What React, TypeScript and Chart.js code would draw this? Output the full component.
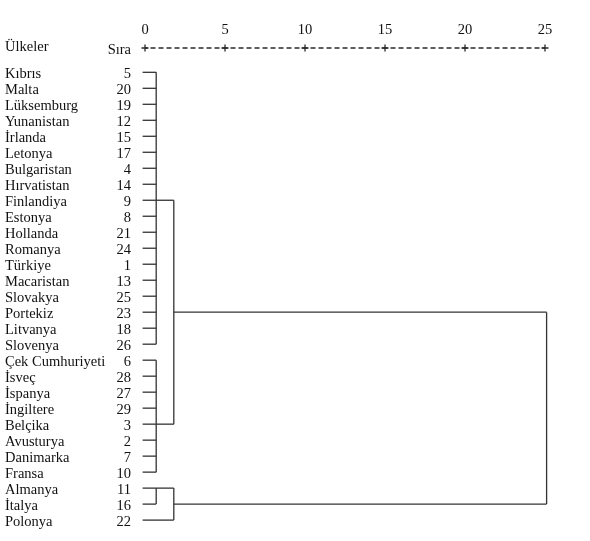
import React, { useEffect, useRef } from 'react';
import { Chart, registerables } from 'chart.js';

Chart.register(...registerables);

// ---------- data ----------
const countries = [
  'Kıbrıs', 'Malta', 'Lüksemburg', 'Yunanistan', 'İrlanda', 'Letonya', 'Bulgaristan',
  'Hırvatistan', 'Finlandiya', 'Estonya', 'Hollanda', 'Romanya', 'Türkiye', 'Macaristan',
  'Slovakya', 'Portekiz', 'Litvanya', 'Slovenya', 'Çek Cumhuriyeti', 'İsveç', 'İspanya',
  'İngiltere', 'Belçika', 'Avusturya', 'Danimarka', 'Fransa', 'Almanya', 'İtalya', 'Polonya',
];
const caseNumbers = [5, 20, 19, 12, 15, 17, 4, 14, 9, 8, 21, 24, 1, 13, 25, 23, 18, 26, 6, 28, 27, 29, 3, 2, 7, 10, 11, 16, 22];
const xTicks = [0, 5, 10, 15, 20, 25];
const headerCountry = 'Ülkeler';
const headerNumber = 'Sıra';

// agglomeration steps (rescaled distance)
const mergeIds = ['A', 'B', 'C', 'D', 'E', 'F'];
const mergeMembers = [
  ['Kıbrıs', 'Malta', 'Lüksemburg', 'Yunanistan', 'İrlanda', 'Letonya', 'Bulgaristan', 'Hırvatistan',
    'Finlandiya', 'Estonya', 'Hollanda', 'Romanya', 'Türkiye', 'Macaristan', 'Slovakya', 'Portekiz',
    'Litvanya', 'Slovenya'],
  ['Çek Cumhuriyeti', 'İsveç', 'İspanya', 'İngiltere', 'Belçika', 'Avusturya', 'Danimarka', 'Fransa'],
  ['Almanya', 'İtalya'],
  ['A', 'B'],
  ['C', 'Polonya'],
  ['D', 'E'],
];
const mergeDistances = [0.7, 0.7, 0.7, 1.8, 1.8, 25.1];
const mergeAnchors = ['Finlandiya', 'Belçika', 'Almanya', 'Portekiz', 'İtalya', 'Portekiz'];

// ---------- layout constants ----------
const LEAF_START = -0.15;
const Y_MIN = -1.52;
const Y_MAX = 28.975;
const HEAD_COUNTRY_ROW = -1.71;
const HEAD_NUMBER_ROW = -1.52;
const FONT = "'Liberation Serif', 'Times New Roman', serif";
const TEXT = '#111111';
const LINE = '#333333';

function buildSegments() {
  const row = new Map<string, number>();
  const dist = new Map<string, number>();
  countries.forEach((c, i) => { row.set(c, i); dist.set(c, LEAF_START); });
  const segs: { x: number; y: number }[][] = [];
  mergeIds.forEach((id, k) => {
    const d = mergeDistances[k];
    const rows = mergeMembers[k].map((m) => row.get(m)!);
    mergeMembers[k].forEach((m) => {
      const r = row.get(m)!;
      segs.push([{ x: dist.get(m)!, y: r }, { x: d, y: r }]);
    });
    segs.push([{ x: d, y: Math.min(...rows) }, { x: d, y: Math.max(...rows) }]);
    row.set(id, countries.indexOf(mergeAnchors[k]));
    dist.set(id, d);
  });
  return segs;
}

export default function App() {
  const ref = useRef<HTMLCanvasElement | null>(null);

  useEffect(() => {
    if (!ref.current) return;
    const segs = buildSegments();
    const datasets: any[] = segs.map((s) => ({
      data: s,
      showLine: true,
      borderColor: LINE,
      borderWidth: 1.3,
      pointRadius: 0,
      clip: false,
      yAxisID: 'y',
    }));
    // dashed ruler line of the text-style axis
    datasets.push({
      data: [{ x: xTicks[0], y: Y_MIN }, { x: xTicks[xTicks.length - 1], y: Y_MIN }],
      showLine: true,
      borderColor: '#2a2a2a',
      borderWidth: 1.3,
      borderDash: [5, 3],
      borderDashOffset: 2.5,
      pointRadius: 0,
      clip: false,
      yAxisID: 'y',
    });
    // "+" marks at the ticks
    datasets.push({
      data: xTicks.map((t) => ({ x: t, y: Y_MIN })),
      showLine: false,
      pointStyle: 'cross',
      pointRadius: 3.5,
      borderColor: '#2a2a2a',
      borderWidth: 1.3,
      clip: false,
      yAxisID: 'y',
    });

    const font = { family: FONT, size: 14.5, lineHeight: 1.2 };
    const noPad = (s: any) => { s.paddingTop = 0; s.paddingBottom = 0; };

    const chart = new Chart(ref.current, {
      type: 'scatter',
      data: { datasets },
      options: {
        animation: false,
        responsive: false,
        events: [],
        layout: { padding: { left: 5, right: 45, top: 18, bottom: 2 } },
        plugins: { legend: { display: false }, tooltip: { enabled: false } },
        scales: {
          x: {
            type: 'linear',
            position: 'top',
            min: 0,
            max: 25,
            grid: { display: false, drawTicks: false },
            border: { display: false },
            ticks: { padding: 9, font, color: TEXT, autoSkip: false },
            afterBuildTicks: (s: any) => { s.ticks = xTicks.map((v) => ({ value: v })); },
            afterFit: (s: any) => { s.height = 30; s.paddingLeft = 0; s.paddingRight = 0; },
          },
          yn: {
            type: 'linear',
            position: 'left',
            reverse: true,
            min: Y_MIN,
            max: Y_MAX,
            weight: 10,
            grid: { display: false, drawTicks: false },
            border: { display: false },
            ticks: {
              autoSkip: false,
              padding: 0,
              crossAlign: 'far',
              labelOffset: 2,
              font,
              color: TEXT,
              callback: (v: any) => (v === HEAD_COUNTRY_ROW ? headerCountry : countries[v as number] ?? ''),
            },
            afterBuildTicks: (s: any) => {
              s.ticks = [{ value: HEAD_COUNTRY_ROW }, ...countries.map((_, i) => ({ value: i }))];
            },
            afterFit: (s: any) => { s.width = 100; noPad(s); },
          },
          y: {
            type: 'linear',
            position: 'left',
            reverse: true,
            min: Y_MIN,
            max: Y_MAX,
            weight: 0,
            grid: { display: false, drawTicks: false },
            border: { display: false },
            ticks: {
              autoSkip: false,
              padding: 14,
              labelOffset: 2,
              font,
              color: TEXT,
              callback: (v: any) => (v === HEAD_NUMBER_ROW ? headerNumber : String(caseNumbers[v as number] ?? '')),
            },
            afterBuildTicks: (s: any) => {
              s.ticks = [{ value: HEAD_NUMBER_ROW }, ...countries.map((_, i) => ({ value: i }))];
            },
            afterFit: (s: any) => { s.width = 40; noPad(s); },
          },
        },
      } as any,
    });
    return () => chart.destroy();
  }, []);

  return (
    <div style={{ position: 'absolute', left: 0, top: 0, width: 590, height: 541, background: '#fff' }}>
      <canvas ref={ref} width={590} height={541} style={{ display: 'block' }} />
    </div>
  );
}
